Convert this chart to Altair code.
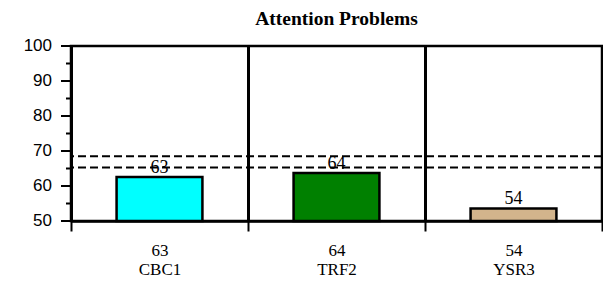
import altair as alt
import pandas as pd

# data
categories = ["CBC1", "TRF2", "YSR3"]
scores = [63, 64, 54]              # printed scores
bar_values = [62.6, 63.7, 53.6]    # drawn bar heights
colors = ["#00FFFF", "#008000", "#D2B48C"]
thresholds = [68.5, 65.3]
major_ticks = [50, 60, 70, 80, 90, 100]
minor_ticks = [55, 65, 75, 85, 95]

df = pd.DataFrame({
    "cat": categories,
    "label": [f"{s}|{c}" for s, c in zip(scores, categories)],
    "score": scores,
    "value": bar_values,
    "color": colors,
})
th = pd.DataFrame({"t": thresholds})
mj = pd.DataFrame({"v": major_ticks})
mt = pd.DataFrame({"m": minor_ticks})

x_enc = alt.X(
    "label:N",
    sort=None,
    scale=alt.Scale(paddingInner=0, paddingOuter=0),
    axis=alt.Axis(
        title=None,
        labelAngle=0,
        tickBand="extent",
        grid=True,
        gridColor="black",
        gridWidth=3,
        gridOpacity=1,
        domainColor="black",
        domainWidth=2.5,
        tickColor="black",
        tickWidth=2,
        tickSize=10,
        labelExpr="split(datum.label, '|')",
        labelFont="Liberation Serif",
        labelFontSize=17,
        labelColor="black",
        labelBaseline="alphabetic",
        labelLineHeight=19,
        labelPadding=24,
    ),
)

y_scale = alt.Scale(domain=[50, 100], nice=False, zero=False)

bars = alt.Chart(df).mark_bar(
    width={"band": 0.485}, stroke="black", strokeWidth=2.5
).encode(
    x=x_enc,
    y=alt.Y("value:Q", scale=y_scale, axis=None),
    y2=alt.datum(50),
    color=alt.Color("color:N", scale=None),
)

major = alt.Chart(mj).mark_rule(color="black", strokeWidth=2).encode(
    x=alt.value(-10), x2=alt.value(0), y=alt.Y("v:Q", scale=y_scale, axis=None)
)
major_labels = alt.Chart(mj).mark_text(
    align="right", baseline="middle", font="Liberation Sans", fontSize=17, color="black"
).encode(
    x=alt.value(-19), y=alt.Y("v:Q", scale=y_scale, axis=None), text="v:Q"
)
minor = alt.Chart(mt).mark_rule(color="black", strokeWidth=2).encode(
    x=alt.value(-5), x2=alt.value(0), y=alt.Y("m:Q", scale=y_scale, axis=None)
)

rules = alt.Chart(th).mark_rule(
    color="black", strokeDash=[8, 4], strokeWidth=2
).encode(y=alt.Y("t:Q", scale=y_scale, axis=None))

texts = alt.Chart(df).mark_text(
    baseline="alphabetic", dy=-4, font="Liberation Serif", fontSize=18, color="black"
).encode(
    x=alt.X("label:N", sort=None),
    y=alt.Y("value:Q", scale=y_scale, axis=None),
    text="score:N",
)

chart = alt.layer(bars, major, minor, major_labels, rules, texts).properties(
    width=531,
    height=175,
    background="white",
    title=alt.TitleParams(
        "Attention Problems",
        font="Liberation Serif",
        fontSize=19.5,
        fontWeight="bold",
        color="black",
        anchor="middle",
        offset=8,
    ),
    autosize=alt.AutoSizeParams(type="none"),
    padding={"left": 63, "top": 38, "right": 1, "bottom": 57},
).configure_view(
    stroke="black", strokeWidth=2.5
)

chart.save("out.html", embed_options={"renderer": "svg", "actions": False})
